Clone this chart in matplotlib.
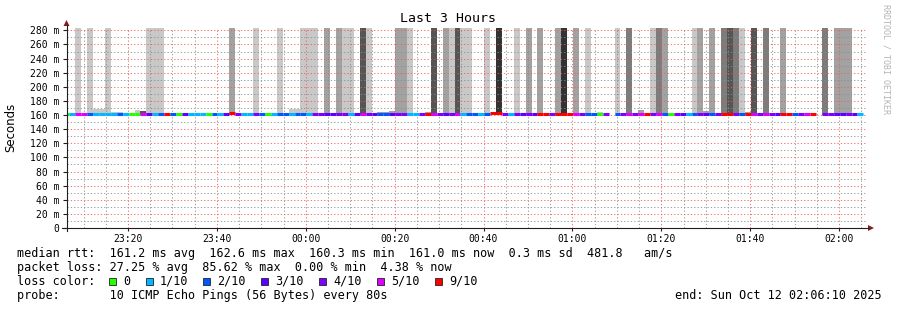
import numpy as np
import matplotlib
matplotlib.use("Agg")
import matplotlib.pyplot as plt
from matplotlib.patches import Rectangle, Polygon

W, H = 897, 310
MONO = "DejaVu Sans Mono"

# time axis in minutes after 23:00, one probe step = 80 s
t_start = 6 + 10 / 60       # 23:06:10
t_end = 186 + 10 / 60       # 02:06:10
step0 = 6.8                 # start of step 0
step_len = 80 / 60

x_ticks = [20, 40, 60, 80, 100, 120, 140, 160, 180]
x_labels = ["23:20", "23:40", "00:00", "00:20", "00:40", "01:00", "01:20", "01:40", "02:00"]
y_ticks = [0, 20, 40, 60, 80, 100, 120, 140, 160, 180, 200, 220, 240, 260, 280]
y_labels = ["0"] + ["%d m" % v for v in y_ticks[1:]]

# per step (step -1 .. 134): median rtt in ms and lost pings out of 10
median = [
    161.2, 161.0, 161.3, 161.3, 161.1, 161.0, 161.0, 161.1, 161.2, 161.1,
    161.0, 161.2, 161.1, 161.4, 161.2, 161.0, 161.1, 161.5, 161.1, 161.0,
    161.2, 161.0, 161.0, 161.1, 161.0, 161.1, 161.0, 161.3, 162.4, 161.2,
    161.0, 161.0, 161.2, 161.1, 161.0, 161.0, 161.1, 161.1, 161.0, 161.1,
    161.1, 161.0, 161.2, 161.2, 161.2, 161.2, 161.3, 161.3, 161.0, 161.2,
    161.4, 161.3, 161.2, 161.1, 161.1, 161.2, 161.3, 161.3, 161.0, 161.0,
    161.3, 162.0, 161.5, 161.3, 161.2, 161.3, 161.5, 161.0, 161.1, 161.1,
    161.0, 161.1, 163.0, 163.0, 161.3, 161.0, 161.3, 161.2, 161.3, 161.2,
    161.8, 161.8, 161.3, 161.6, 161.6, 161.4, 161.4, 161.2, 161.1, 161.1,
    161.0, 161.2, None, 161.1, 161.2, 161.4, 161.2, 161.4, 161.6, 161.2,
    161.4, 161.1, 161.0, 161.2, 161.2, 161.0, 161.1, 161.2, 161.2, 161.1,
    161.2, 161.6, 161.6, 161.2, 161.1, 162.0, 161.4, 161.2, 161.4, 161.2,
    161.2, 161.6, 161.6, 161.1, 161.2, 161.4, 161.6, None, 161.2, 161.2,
    161.2, 161.2, 161.2, 161.2, 161.0, None,
]
loss = [
    0, 1, 5, 5, 2, 1, 1, 1, 1, 2,
    1, 0, 0, 5, 3, 1, 2, 9, 2, 0,
    3, 1, 1, 1, 0, 2, 1, 3, 9, 4,
    1, 1, 4, 2, 0, 1, 2, 2, 1, 2,
    2, 1, 4, 4, 3, 3, 4, 4, 1, 3,
    5, 4, 3, 2, 2, 3, 4, 4, 1, 1,
    4, 9, 5, 4, 3, 4, 5, 1, 2, 2,
    1, 2, 9, 9, 4, 1, 4, 3, 4, 3,
    9, 9, 4, 9, 9, 9, 5, 4, 2, 2,
    0, 4, None, 2, 4, 5, 4, 5, 9, 4,
    5, 2, 0, 4, 3, 1, 2, 4, 3, 2,
    4, 9, 9, 4, 2, 9, 5, 4, 5, 4,
    3, 9, 9, 2, 4, 5, 9, None, 4, 4,
    3, 3, 4, 3, 1, None,
]

# smoke: step, top of smoke (ms), density level 1 (light) .. 5 (dark)
smoke_step = [1, 3, 4, 5, 6, 7, 8, 11, 12, 13, 14, 15, 27, 31, 35, 37, 38, 39, 40, 41,
              43, 45, 46, 47, 49, 50, 52, 53, 54, 55, 56, 57, 60, 61, 63, 64, 65, 66, 67, 70,
              72, 75, 77, 79, 82, 83, 85, 87, 89, 92, 94, 96, 98, 99, 100, 105, 106, 107, 108, 110,
              111, 112, 113, 114, 115, 117, 120, 127, 129, 130, 131]
smoke_top = [284, 284, 169, 169, 284, 164, 164, 167, 166, 284, 284, 284, 284, 284, 284, 169, 169, 284, 284, 284,
             284, 284, 284, 284, 284, 284, 164, 165, 166, 284, 284, 284, 164, 284, 284, 284, 284, 284, 284, 284,
             284, 284, 284, 284, 284, 284, 284, 284, 165, 284, 284, 167, 284, 284, 284, 284, 284, 166, 284, 284,
             284, 284, 284, 165, 284, 284, 284, 284, 284, 284, 284]
smoke_level = [1, 1, 1, 1, 1, 1, 1, 1, 4, 1, 1, 1, 2, 1, 1, 1, 1, 1, 1, 1,
               2, 2, 1, 1, 4, 1, 2, 2, 2, 2, 2, 1, 2, 4, 2, 1, 4, 1, 1, 1,
               5, 1, 2, 2, 2, 5, 2, 1, 1, 1, 3, 2, 1, 3, 2, 1, 2, 2, 2, 3,
               4, 3, 1, 2, 4, 3, 2, 3, 2, 2, 2]

loss_colors = {0: "#26ff00", 1: "#00b8ff", 2: "#0059ff", 3: "#5e00ff",
               4: "#7e00ff", 5: "#dd00ff", 9: "#ff0000"}
loss_names = ["0", "1/10", "2/10", "3/10", "4/10", "5/10", "9/10"]
loss_keys = [0, 1, 2, 3, 4, 5, 9]
smoke_colors = {1: "#c8c8c8", 2: "#a2a2a2", 3: "#7c7c7c", 4: "#555555", 5: "#333333"}

fig = plt.figure(figsize=(W / 100, H / 100), dpi=100)
fig.patch.set_facecolor("white")

x0, x1, ytop, ybot = 66.5, 866.5, 28, 228
ax = fig.add_axes([x0 / W, (H - ybot) / H, (x1 - x0) / W, (ybot - ytop) / H])
ax.set_xlim(t_start, t_end)
ax.set_ylim(0, 283.3)
for s in ax.spines.values():
    s.set_visible(False)

# smoke
base = 159.5
sx = [step0 + s * step_len for s in smoke_step]
ax.bar(sx, [t - base for t in smoke_top], bottom=base, width=step_len, align="edge",
       color=[smoke_colors[l] for l in smoke_level], linewidth=0, zorder=1)

# median coloured by loss
segs_y, segs_a, segs_b, segs_c = [], [], [], []
for i, (m, l) in enumerate(zip(median, loss)):
    if m is None or l is None:
        continue
    st = step0 + (i - 1) * step_len
    segs_y.append(m)
    segs_a.append(st)
    segs_b.append(st + step_len)
    segs_c.append(loss_colors[l])
lc = ax.hlines(segs_y, segs_a, segs_b, colors=segs_c, linewidth=2.2, zorder=3)
lc.set_capstyle("butt")

# ticks and grid
ax.set_xticks(x_ticks, x_labels)
ax.set_xticks([v for v in np.arange(10, 186, 5) if v not in x_ticks], minor=True)
ax.set_yticks(y_ticks, y_labels)
ax.set_yticks(np.arange(10, 281, 20), minor=True)
ax.tick_params(axis="y", which="major", length=3, width=0.8, color="#1f1f1f", pad=2.2,
               labelsize=7, labelfontfamily=MONO)
ax.tick_params(axis="x", which="major", length=2, width=0.8, color="#1f1f1f", pad=2,
               labelsize=7, labelfontfamily=MONO)
ax.tick_params(which="minor", length=0)
ax.set_axisbelow(False)
ax.grid(which="minor", color=(0.55, 0.55, 0.55, 0.3), linestyle=(0, (1.5, 2.5)), linewidth=0.6)
ax.grid(which="major", color=(0.95, 0.35, 0.35, 0.4), linestyle=(0, (1.5, 2.5)), linewidth=0.6)

# overlay in pixel coordinates for axes arrows and texts
ov = fig.add_axes([0, 0, 1, 1], zorder=5)
ov.set_xlim(0, W)
ov.set_ylim(H, 0)
ov.axis("off")
ov.patch.set_alpha(0)

ov.plot([x0, x0], [231, 25], color="#1f1f1f", lw=0.8)
ov.plot([62, 868], [ybot, ybot], color="#1f1f1f", lw=0.8)
ov.add_patch(Polygon([[x0 - 3, 26], [x0 + 3, 26], [x0, 20]], closed=True, color="#801f1f", lw=0))
ov.add_patch(Polygon([[868, ybot - 3], [868, ybot + 3], [874, ybot]], closed=True, color="#801f1f", lw=0))

ov.text(448, 19, "Last 3 Hours", ha="center", va="center", fontsize=9.5, family=MONO)
ov.text(11, 127, "Seconds", ha="center", va="center", rotation=90, fontsize=8.5, family="DejaVu Sans")
ov.text(886, 4, "RRDTOOL / TOBI OETIKER", ha="center", va="top", rotation=270, fontsize=6,
        family=MONO, color="#b4b4b4")

lines = [
    "median rtt:  161.2 ms avg  162.6 ms max  160.3 ms min  161.0 ms now  0.3 ms sd  481.8   am/s",
    "packet loss: 27.25 % avg  85.62 % max  0.00 % min  4.38 % now",
    "loss color:",
    "probe:       10 ICMP Echo Pings (56 Bytes) every 80s",
]
base_y = [257.5, 271.3, 285.0, 298.8]
for txt, by in zip(lines, base_y):
    ov.text(16.7, by, txt, ha="left", va="baseline", fontsize=8.47, family=MONO)

box_x = [109, 146, 203, 261, 319, 377, 435]
for bx, k, name in zip(box_x, loss_keys, loss_names):
    ov.add_patch(Rectangle((bx, 278), 7, 7, facecolor=loss_colors[k], edgecolor="#222222", lw=0.6))
    ov.text(bx + 14, base_y[2], name, ha="left", va="baseline", fontsize=8.47, family=MONO)

ov.text(882, base_y[3], "end: Sun Oct 12 02:06:10 2025", ha="right", va="baseline", fontsize=8.47, family=MONO)

fig.savefig("out.png", dpi=100)
